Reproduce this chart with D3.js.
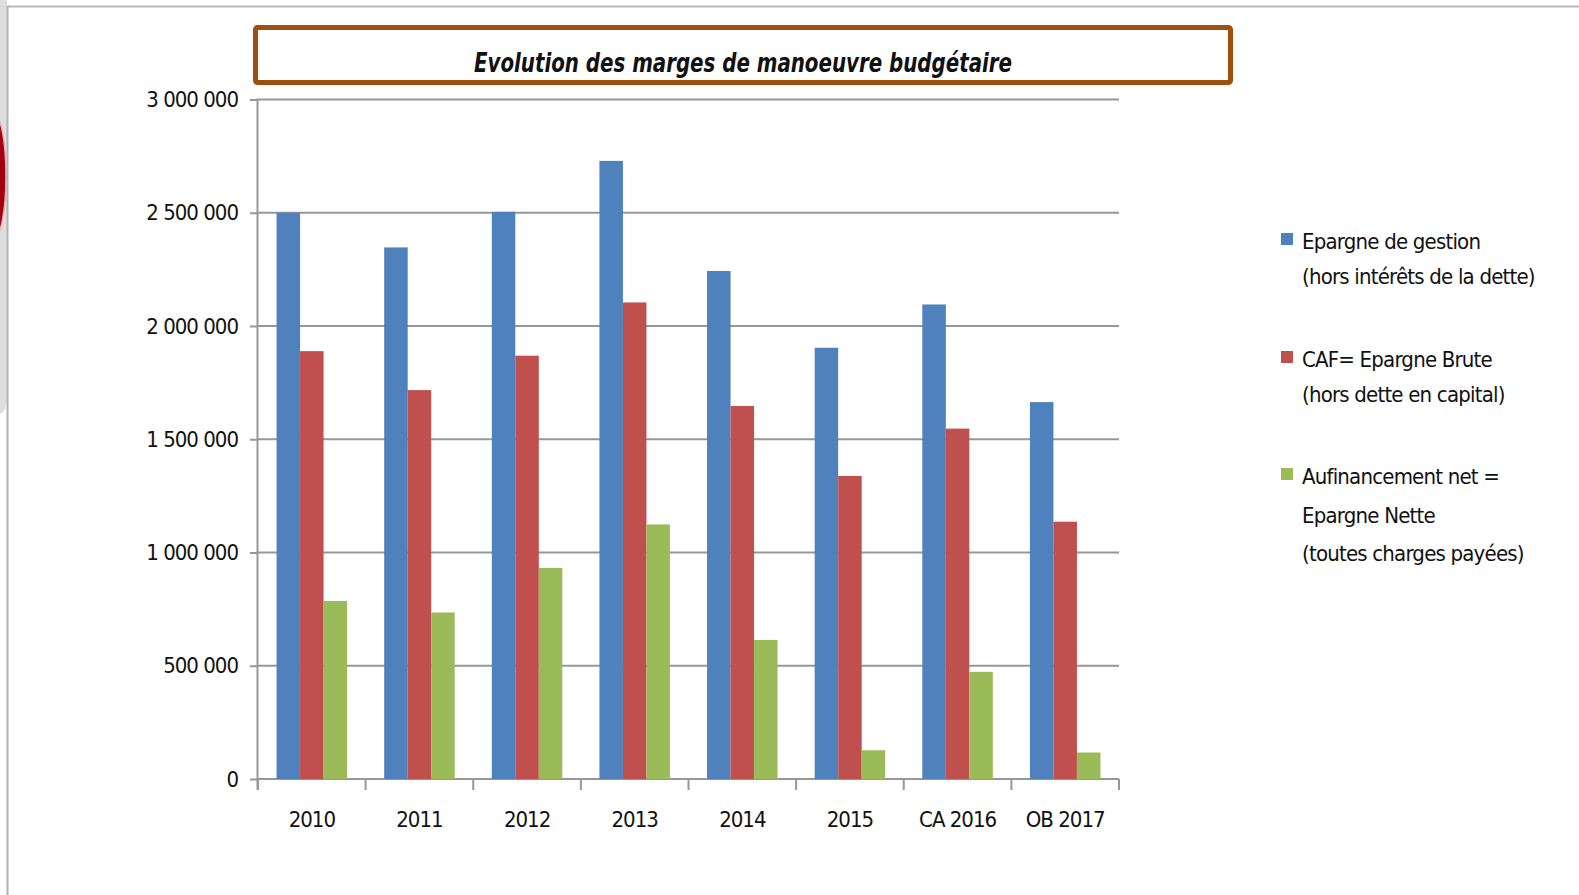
<!DOCTYPE html>
<html>
<head>
<meta charset="utf-8">
<script src="https://cdn.jsdelivr.net/npm/d3@7"></script>
<style>
  html, body { margin: 0; padding: 0; background: #fff; }
  svg { display: block; }
  text { font-family: "Liberation Sans Narrow", "DejaVu Sans Condensed", sans-serif; fill: #111; }
</style>
</head>
<body>
<div id="chart"></div>
<script>
// ---------------------------------------------------------------------------
// Data

const categories = ['2010', '2011', '2012', '2013', '2014', '2015', 'CA 2016', 'OB 2017'];

const epargneGestion = [2500000, 2347000, 2504000, 2729000, 2243000, 1904000, 2095000, 1664000];
const epargneBrute = [1889000, 1717000, 1869000, 2104000, 1647000, 1338000, 1547000, 1136000];
const epargneNette = [786000, 735000, 932000, 1124000, 614000, 127000, 473000, 117000];

const seriesNames = [
  ['Epargne de gestion', '(hors intérêts de la dette)'],
  ['CAF= Epargne Brute', '(hors dette en capital)'],
  ['Aufinancement net =', 'Epargne Nette', '(toutes charges payées)']
];
const seriesColors = ['#4f81bd', '#c0504d', '#9bbb59'];

const yTicks = [0, 500000, 1000000, 1500000, 2000000, 2500000, 3000000];

const title = 'Evolution des marges de manoeuvre budgétaire';

// ---------------------------------------------------------------------------
// Layout

const width = 1579;
const height = 895;
const plot = { left: 258, right: 1119, top: 99.5, bottom: 779 };

const svg = d3.select('#chart')
  .append('svg')
  .attr('width', width)
  .attr('height', height);

// window frame remains at the left / top edge
svg.append('path')
  .attr('d', 'M0,0 H7 V398 Q7,412 0,414 Z')
  .attr('fill', '#dedede');
svg.append('ellipse')
  .attr('cx', -6).attr('cy', 176)
  .attr('rx', 12).attr('ry', 62)
  .attr('fill', '#a0000f')
  .attr('stroke', '#e8b0b4').attr('stroke-width', 1.5);
svg.append('line')
  .attr('x1', 7.5).attr('x2', 7.5).attr('y1', 6).attr('y2', height)
  .attr('stroke', '#b2b2b2').attr('stroke-width', 2);
svg.append('line')
  .attr('x1', 7).attr('x2', width).attr('y1', 6.5).attr('y2', 6.5)
  .attr('stroke', '#b8b8b8').attr('stroke-width', 2);

// ---------------------------------------------------------------------------
// Scales

const x0 = d3.scaleBand()
  .domain(categories)
  .range([plot.left, plot.right])
  .padding(0);

const x1 = d3.scaleBand()
  .domain(d3.range(seriesColors.length))
  .range([0, x0.bandwidth()])
  .paddingInner(0)
  .paddingOuter(0.79);

const y = d3.scaleLinear()
  .domain([0, 3000000])
  .range([plot.bottom, plot.top]);

const fmt = v => d3.format(',')(v).replace(/,/g, ' ');

// gridlines
svg.append('g')
  .selectAll('line')
  .data(yTicks)
  .enter()
  .append('line')
  .attr('x1', plot.left).attr('x2', plot.right)
  .attr('y1', d => y(d)).attr('y2', d => y(d))
  .attr('stroke', '#979797').attr('stroke-width', 2);

// y axis
const yAxis = svg.append('g')
  .attr('transform', `translate(${plot.left},0)`)
  .call(d3.axisLeft(y).tickValues(yTicks).tickFormat(fmt).tickSize(8).tickPadding(12));
yAxis.select('.domain').remove();
yAxis.selectAll('line').attr('stroke', '#979797').attr('stroke-width', 2);
yAxis.selectAll('text')
  .style('font-size', '22px')
  .style('letter-spacing', '-1px')
  .attr('fill', '#111');

svg.append('line')
  .attr('x1', plot.left - 0.5).attr('x2', plot.left - 0.5)
  .attr('y1', plot.top - 1).attr('y2', plot.bottom + 11)
  .attr('stroke', '#979797').attr('stroke-width', 2);

// x axis ticks at category boundaries
const boundaries = categories.map(c => x0(c)).concat([plot.right]);
svg.append('g')
  .selectAll('line')
  .data(boundaries)
  .enter()
  .append('line')
  .attr('x1', d => d).attr('x2', d => d)
  .attr('y1', plot.bottom).attr('y2', plot.bottom + 11)
  .attr('stroke', '#979797').attr('stroke-width', 2);

const xAxis = svg.append('g')
  .attr('transform', `translate(0,${plot.bottom})`)
  .call(d3.axisBottom(x0).tickSize(0).tickPadding(32));
xAxis.select('.domain').remove();
xAxis.selectAll('text')
  .style('font-size', '22px')
  .style('letter-spacing', '-1px')
  .attr('fill', '#111');

// ---------------------------------------------------------------------------
// Bars

const allSeries = [epargneGestion, epargneBrute, epargneNette];

const groups = svg.append('g')
  .selectAll('g')
  .data(categories)
  .enter()
  .append('g')
  .attr('transform', d => `translate(${x0(d)},0)`);

groups.selectAll('rect')
  .data((d, i) => allSeries.map((s, k) => ({ k: k, value: s[i] })))
  .enter()
  .append('rect')
  .attr('x', d => x1(d.k))
  .attr('width', x1.bandwidth())
  .attr('y', d => y(d.value))
  .attr('height', d => y(0) - y(d.value))
  .attr('fill', d => seriesColors[d.k]);

// ---------------------------------------------------------------------------
// Title box

svg.append('rect')
  .attr('x', 255.5).attr('y', 27.5)
  .attr('width', 975).attr('height', 55)
  .attr('rx', 2)
  .attr('fill', '#fff')
  .attr('stroke', '#a0500e')
  .attr('stroke-width', 5);

svg.append('text')
  .attr('x', 743).attr('y', 72)
  .attr('text-anchor', 'middle')
  .attr('textLength', 538)
  .attr('lengthAdjust', 'spacingAndGlyphs')
  .style('font-size', '27px')
  .style('font-weight', 'bold')
  .style('font-style', 'italic')
  .text(title);

// ---------------------------------------------------------------------------
// Legend

const legendRows = [240, 358, 475];

const legend = svg.append('g');
seriesNames.forEach((lines, k) => {
  legend.append('rect')
    .attr('x', 1281).attr('y', legendRows[k] - 7)
    .attr('width', 12).attr('height', 12)
    .attr('fill', seriesColors[k]);
  lines.forEach((t, j) => {
    legend.append('text')
      .attr('x', 1302)
      .attr('y', legendRows[k] + j * (k === 2 ? 38.5 : 34.5) + 9)
      .style('font-size', '22px')
      .style('letter-spacing', '-0.8px')
      .text(t);
  });
});
</script>
</body>
</html>
